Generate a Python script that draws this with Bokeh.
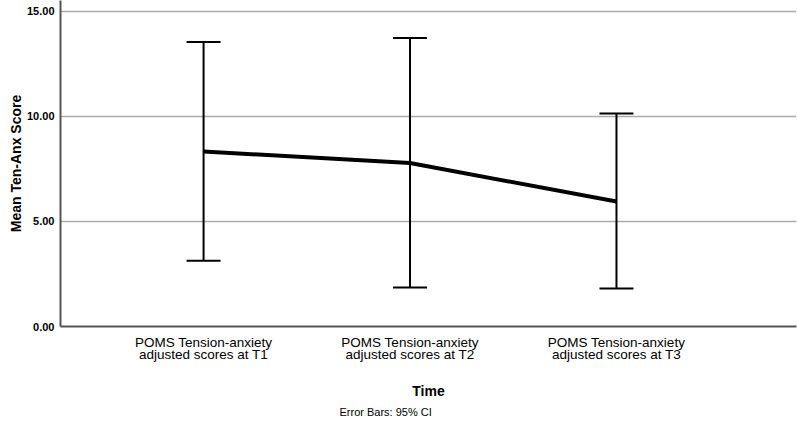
from bokeh.plotting import figure
from bokeh.models import Range1d, FixedTicker, Whisker, ColumnDataSource, Title, TeeHead
from bokeh.embed import file_html
from bokeh.resources import INLINE

# ---- data ----
categories = [
    "POMS Tension-anxiety\nadjusted scores at T1",
    "POMS Tension-anxiety\nadjusted scores at T2",
    "POMS Tension-anxiety\nadjusted scores at T3",
]
means = [8.33, 7.78, 5.95]
ci_upper = [13.54, 13.73, 10.14]
ci_lower = [3.13, 1.86, 1.81]
y_ticks = [0, 5, 10, 15]
y_tick_labels = ["0.00", "5.00", "10.00", "15.00"]

xpos = list(range(1, len(categories) + 1))
src = ColumnDataSource(dict(x=xpos, mean=means, upper=ci_upper, lower=ci_lower))

FONT = "Liberation Sans"

p = figure(
    width=797, height=424,
    x_range=Range1d(0.307, 3.872), y_range=Range1d(0, 15.52),
    output_backend="svg", toolbar_location=None,
    min_border_left=60, min_border_right=1, min_border_top=0, min_border_bottom=98,
    background_fill_color="white", border_fill_color="white",
)
p.outline_line_color = None

# grid
p.xgrid.visible = False
p.ygrid.ticker = FixedTicker(ticks=y_ticks)
p.ygrid.grid_line_color = "#ababab"
p.ygrid.grid_line_width = 1.5

# y axis
p.yaxis.ticker = FixedTicker(ticks=y_ticks)
p.yaxis.major_label_overrides = {t: l for t, l in zip(y_ticks, y_tick_labels)}
p.yaxis.major_label_text_font = FONT
p.yaxis.major_label_text_font_size = "11px"
p.yaxis.major_label_text_font_style = "bold"
p.yaxis.major_label_text_color = "black"
p.yaxis.major_tick_line_color = None
p.yaxis.minor_tick_line_color = None
p.yaxis.major_tick_out = 0
p.yaxis.major_tick_in = 0
p.yaxis.major_label_standoff = 6
p.yaxis.axis_line_color = "#555555"
p.yaxis.axis_line_width = 2
p.yaxis.axis_label = "Mean Ten-Anx Score"
p.yaxis.axis_label_text_font = FONT
p.yaxis.axis_label_text_font_size = "14px"
p.yaxis.axis_label_text_font_style = "bold"
p.yaxis.axis_label_text_color = "black"
p.yaxis.axis_label_standoff = 0

# x axis
p.xaxis.ticker = FixedTicker(ticks=xpos)
p.xaxis.major_label_overrides = {x: c for x, c in zip(xpos, categories)}
p.xaxis.major_label_text_font = FONT
p.xaxis.major_label_text_font_size = "13.5px"
p.xaxis.major_label_text_line_height = 0.8
p.xaxis.major_label_text_color = "black"
p.xaxis.major_tick_line_color = None
p.xaxis.minor_tick_line_color = None
p.xaxis.major_tick_out = 0
p.xaxis.major_tick_in = 0
p.xaxis.major_label_standoff = 8
p.xaxis.axis_line_color = "#555555"
p.xaxis.axis_line_width = 2
p.xaxis.axis_label = "Time"
p.xaxis.axis_label_text_font = FONT
p.xaxis.axis_label_text_font_size = "14px"
p.xaxis.axis_label_text_font_style = "bold"
p.xaxis.axis_label_text_color = "black"
p.xaxis.axis_label_standoff = 18

# error bars
w = Whisker(
    source=src, base="x", upper="upper", lower="lower",
    line_color="black", line_width=2,
    upper_head=TeeHead(size=34, line_color="black", line_width=2),
    lower_head=TeeHead(size=34, line_color="black", line_width=2),
)
p.add_layout(w)

# mean line
p.line("x", "mean", source=src, line_color="black", line_width=4)

# footnote
foot = Title(text="Error Bars: 95% CI", align="left", offset=279, standoff=5,
             text_font=FONT, text_font_size="11px", text_font_style="normal",
             text_color="black")
p.add_layout(foot, "below")

open("out.html", "w").write(file_html(p, INLINE))
